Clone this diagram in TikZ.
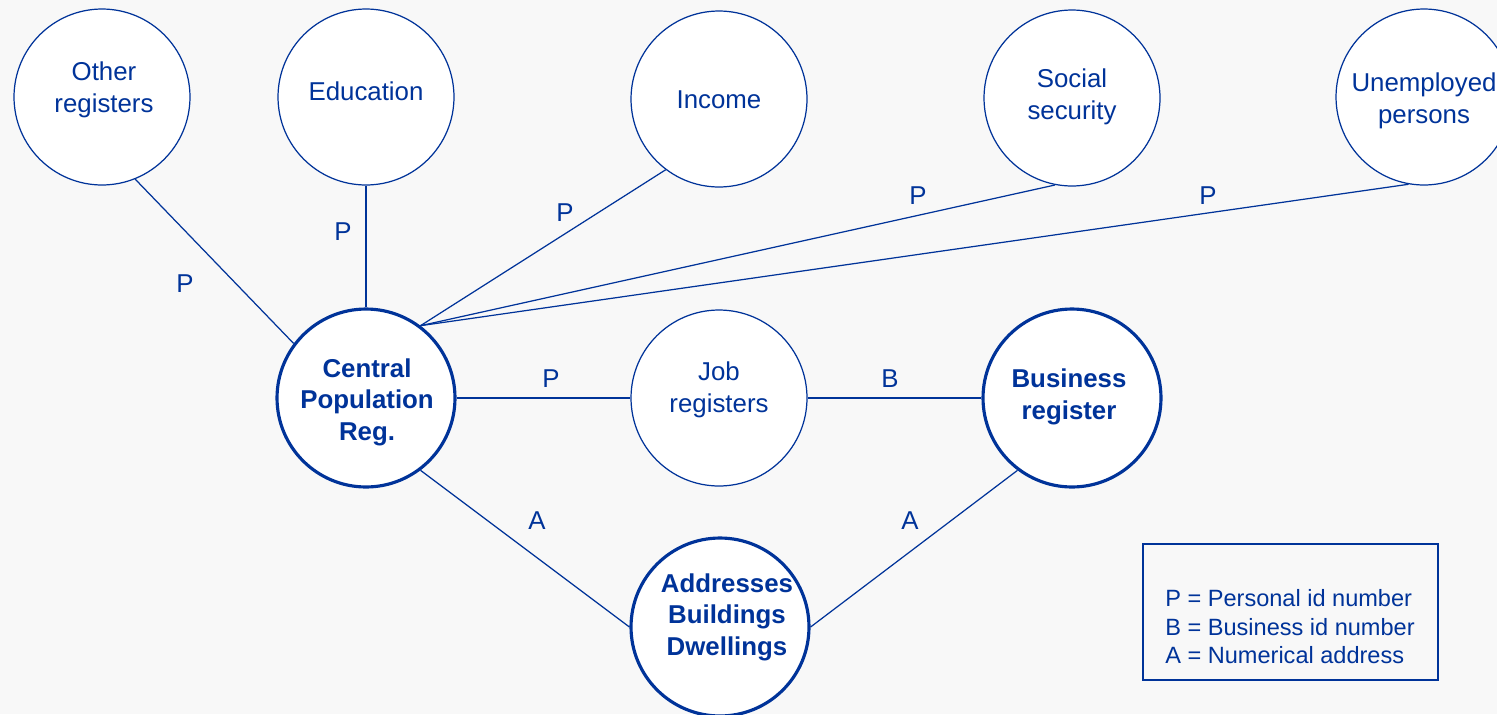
\documentclass[tikz,border=0pt]{standalone}
\usepackage{fontspec}
\setmainfont{Liberation Sans}
\definecolor{regblue}{RGB}{0,51,153}
\definecolor{paper}{RGB}{248,248,248}

\tikzset{
  reg/.style={circle, draw=regblue, fill=white, line width=0.7pt,
    minimum size=3.52cm, inner sep=0pt},
  mainreg/.style={reg, line width=1.8pt, minimum size=3.56cm},
  regtext/.style={align=center, text=regblue, inner sep=0pt,
    font=\fontsize{14.7}{17.9}\selectfont},
  maintext/.style={regtext, font=\fontsize{14.7}{17.9}\selectfont\bfseries},
  link/.style={draw=regblue, line width=0.7pt},
  idlbl/.style={text=regblue, inner sep=0pt, font=\fontsize{14.7}{17.9}\selectfont},
  keybox/.style={draw=regblue, line width=1pt, minimum width=5.9cm, minimum height=2.72cm, inner sep=0pt},
  keytext/.style={text=regblue, align=left, inner sep=0pt, font=\fontsize{13.4}{16.2}\selectfont}
}

\begin{document}
\begin{tikzpicture}[x=0.02cm, y=-0.02cm]
\useasboundingbox (0,0) rectangle (1497,714);
\clip (0,0) rectangle (1497,714);
\fill[paper] (0,0) rectangle (1497,714);

% registers
\node[reg] (other) at (102,97) {};
\node[reg] (edu) at (366,97) {};
\node[reg] (income) at (719,99) {};
\node[reg] (social) at (1072,98) {};
\node[reg] (unemp) at (1424,97) {};
\node[mainreg] (cpr) at (366,398) {};
\node[reg] (job) at (719,398) {};
\node[mainreg] (bus) at (1072,398) {};
\node[mainreg] (addr) at (720,627) {};

\node[regtext] (othertext) at (104,90) {Other\\registers};
\node[regtext] (edutext) at (366,91) {Education};
\node[regtext] (incometext) at (719,100) {Income};
\node[regtext] (socialtext) at (1072,97) {Social\\security};
\node[regtext] (unemptext) at (1424,101) {Unemployed\\persons};
\node[maintext] (cprtext) at (367,402) {Central\\Population\\Reg.};
\node[regtext] (jobtext) at (719,390) {Job\\registers};
\node[maintext] (bustext) at (1069,397) {Business\\register};
\node[maintext] (addrtext) at (727,617) {Addresses\\Buildings\\Dwellings};

% links
\draw[link] (cpr.143) -- (other.292);
\draw[link] (cpr.north) -- (edu.south);
\draw[link] (cpr.53) -- (income.233);
\draw[link] (cpr.53) -- (social.259);
\draw[link] (cpr.53) -- (unemp.260);
\draw[link] (cpr.east) -- (job.west);
\draw[link] (job.east) -- (bus.west);
\draw[link] (cpr.307) -- (addr.west);
\draw[link] (bus.233) -- (addr.east);

% id labels
\node[idlbl] (p1) at (185,284) {P};
\node[idlbl] (p2) at (343,232) {P};
\node[idlbl] (p3) at (565,213) {P};
\node[idlbl] (p4) at (918,196) {P};
\node[idlbl] (p5) at (1208,196) {P};
\node[idlbl] (p6) at (551,379) {P};
\node[idlbl] (b1) at (890,379) {B};
\node[idlbl] (a1) at (537,521) {A};
\node[idlbl] (a2) at (910,521) {A};

% key
\node[keybox] (key) at (1290.5,612) {};
\node[keytext, anchor=west] (keytext) at (1165,627)
  {P = Personal id number\\B = Business id number\\A = Numerical address};
\end{tikzpicture}
\end{document}
